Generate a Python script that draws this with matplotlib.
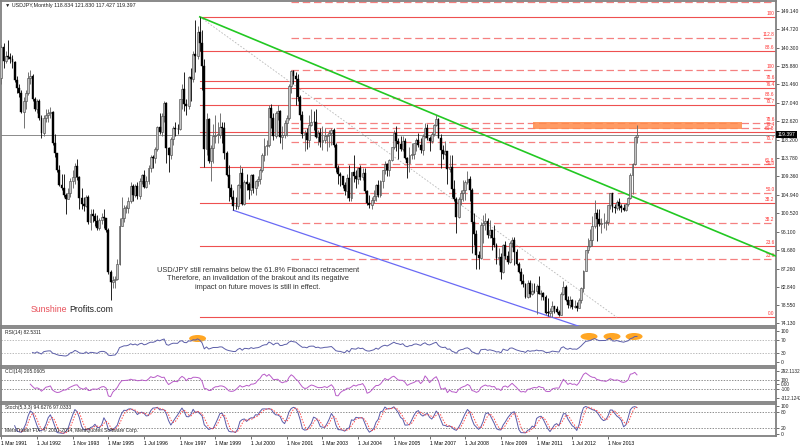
import numpy as np
import matplotlib.pyplot as plt
from matplotlib.patches import Ellipse, Rectangle

plt.rcParams['font.family'] = ['Liberation Sans', 'DejaVu Sans']

# USDJPY monthly bars, first bar = Mar 1991, last = Dec 2014
first_open = 133.0
close = [
    140.5, 137.0, 138.3, 138.0, 137.5, 136.9, 132.6, 130.5, 129.5, 124.8,            # 1991
    127.5, 129.5, 133.0, 133.5, 128.0, 125.5, 127.4, 123.5, 119.8, 123.4, 124.2, 124.7,  # 1992
    124.8, 117.5, 114.9, 111.0, 107.4, 106.6, 104.8, 104.0, 105.4, 108.3, 109.2, 111.9,  # 1993
    109.3, 104.3, 102.7, 102.3, 104.5, 98.5, 100.4, 99.9, 98.6, 96.9, 99.0, 99.7,        # 1994
    99.5, 96.6, 86.5, 84.0, 84.6, 84.8, 88.4, 97.5, 99.5, 101.8, 101.9, 103.4,           # 1995
    107.0, 104.9, 107.0, 104.6, 108.3, 109.7, 106.8, 108.2, 111.5, 114.0, 113.7, 116.0,  # 1996
    121.3, 120.0, 123.8, 127.0, 116.3, 114.5, 118.4, 121.0, 120.8, 120.7, 127.9, 130.4,  # 1997
    126.8, 126.3, 133.2, 132.7, 138.8, 138.3, 144.0, 141.5, 135.8, 116.0, 123.2, 113.1,  # 1998
    116.2, 119.1, 119.3, 119.4, 121.3, 120.9, 114.9, 109.8, 106.5, 104.4, 102.3, 102.2,  # 1999
    107.3, 110.3, 102.8, 108.1, 107.6, 106.1, 109.6, 106.7, 108.2, 108.8, 110.8, 114.5,  # 2000
    116.6, 117.0, 125.8, 123.4, 119.1, 124.6, 125.0, 118.9, 119.4, 122.3, 123.3, 131.0,  # 2001
    134.7, 133.4, 132.7, 128.5, 124.1, 119.6, 119.9, 118.2, 121.8, 122.5, 122.4, 118.8,  # 2002
    119.9, 117.6, 118.1, 119.1, 119.3, 119.9, 120.5, 116.8, 111.4, 109.9, 109.5, 107.3,  # 2003
    105.9, 109.1, 104.2, 110.5, 109.4, 108.8, 111.4, 109.3, 110.1, 105.8, 103.1, 102.6,  # 2004
    103.6, 104.6, 107.2, 104.8, 108.3, 110.9, 112.4, 111.0, 113.4, 116.4, 119.8, 117.9,  # 2005
    117.2, 116.0, 117.8, 113.9, 112.5, 114.5, 114.7, 117.3, 118.0, 116.9, 115.8, 119.0,  # 2006
    121.0, 118.5, 117.8, 119.5, 121.7, 123.2, 118.6, 115.8, 114.8, 115.4, 111.2, 111.7,  # 2007
    106.4, 103.9, 99.7, 103.9, 105.5, 106.2, 108.1, 108.8, 106.0, 98.4, 95.5, 90.6,      # 2008
    89.9, 97.6, 98.2, 98.6, 95.3, 96.4, 94.7, 93.0, 89.7, 90.1, 86.4, 93.0,              # 2009
    90.3, 88.9, 93.4, 94.0, 91.2, 88.4, 86.5, 84.2, 83.5, 80.4, 83.7, 81.1,              # 2010
    81.9, 81.8, 83.1, 81.2, 81.5, 80.5, 76.7, 76.6, 77.0, 78.2, 77.6, 76.9,              # 2011
    76.2, 81.2, 82.9, 79.8, 78.4, 79.8, 78.1, 78.3, 77.9, 79.8, 82.5, 86.7,              # 2012
    91.7, 92.6, 94.2, 97.4, 100.5, 99.1, 97.9, 98.1, 98.3, 98.4, 102.4, 105.3,           # 2013
    102.0, 101.8, 103.2, 102.3, 101.8, 101.3, 102.8, 104.1, 109.6, 112.3, 118.834, 119.397,  # 2014
]
high = [
    141.0, 141.5, 139.5, 142.0, 139.0, 138.5, 137.0, 133.5, 131.5, 130.0,
    128.5, 130.2, 134.5, 135.0, 134.0, 128.5, 128.0, 128.0, 124.0, 124.0, 125.5, 125.5,
    126.0, 125.0, 119.5, 115.0, 112.0, 110.0, 110.0, 105.5, 106.5, 109.0, 111.0, 112.5,
    113.5, 109.5, 106.5, 104.5, 105.0, 105.0, 101.5, 101.5, 100.5, 100.0, 99.5, 100.5,
    101.5, 99.5, 97.0, 87.0, 85.5, 85.5, 89.5, 99.5, 104.5, 102.5, 102.5, 104.5,
    108.0, 107.5, 107.5, 108.0, 109.0, 110.0, 111.0, 109.5, 112.0, 114.5, 114.5, 116.5,
    121.5, 124.5, 124.5, 127.5, 127.2, 116.5, 118.8, 121.5, 122.5, 122.0, 128.0, 131.5,
    134.5, 128.0, 133.5, 135.5, 139.5, 146.8, 145.5, 147.66, 144.5, 137.5, 124.5, 123.5,
    117.0, 122.0, 124.0, 122.5, 124.5, 122.5, 122.5, 115.5, 112.0, 107.5, 106.0, 104.5,
    107.5, 112.0, 111.5, 108.5, 110.0, 108.0, 110.0, 110.0, 108.5, 109.5, 111.5, 115.0,
    118.5, 118.0, 126.5, 126.8, 124.5, 125.0, 126.5, 125.3, 121.5, 123.0, 124.0, 131.5,
    135.0, 135.0, 134.5, 134.0, 129.0, 125.0, 120.5, 121.0, 124.0, 125.5, 125.0, 125.5,
    120.5, 121.0, 121.5, 121.0, 119.5, 120.5, 121.0, 121.0, 117.5, 112.0, 110.5, 109.5,
    108.0, 110.0, 112.0, 110.5, 114.5, 111.0, 111.5, 112.0, 111.5, 111.5, 106.0, 105.0,
    104.5, 106.0, 107.5, 108.5, 108.5, 111.0, 113.0, 112.5, 113.5, 116.5, 120.5, 121.4,
    118.5, 119.0, 119.0, 118.5, 114.0, 116.5, 117.5, 117.5, 118.5, 119.9, 118.5, 119.5,
    122.2, 122.0, 119.0, 120.0, 122.0, 124.1, 123.5, 119.5, 117.0, 117.8, 115.5, 114.5,
    114.5, 108.5, 104.5, 104.5, 106.0, 108.5, 108.5, 110.6, 109.5, 106.5, 100.5, 96.5,
    91.5, 98.5, 100.0, 100.7, 99.5, 98.9, 96.5, 97.8, 93.3, 92.3, 91.0, 93.2,
    93.8, 91.5, 93.8, 94.9, 94.8, 92.0, 88.8, 87.5, 85.9, 83.9, 84.4, 84.5,
    83.7, 83.9, 83.5, 85.5, 82.2, 81.7, 81.0, 80.2, 77.8, 79.5, 78.3, 78.2,
    77.3, 81.7, 84.2, 83.3, 80.6, 80.6, 80.0, 79.6, 79.2, 80.2, 82.8, 86.8,
    91.8, 94.5, 96.7, 99.9, 103.7, 101.5, 101.5, 99.5, 100.6, 99.0, 102.6, 105.4,
    105.4, 102.8, 103.8, 104.1, 102.8, 102.8, 103.1, 104.5, 110.1, 112.5, 118.98, 121.830,
]
low = [
    131.5, 135.5, 136.5, 137.5, 136.5, 135.5, 132.0, 129.5, 128.5, 124.5,
    121.0, 125.5, 129.0, 131.5, 127.5, 125.0, 124.5, 123.0, 118.5, 119.0, 122.5, 122.5,
    123.5, 117.0, 114.0, 110.5, 107.0, 106.0, 104.5, 100.4, 104.0, 104.5, 106.5, 107.5,
    108.5, 101.5, 101.5, 101.0, 102.0, 98.0, 96.5, 98.5, 97.5, 96.5, 96.5, 98.0,
    97.0, 96.0, 86.0, 79.75, 82.5, 82.5, 84.5, 88.0, 97.5, 98.5, 100.5, 100.5,
    103.0, 103.5, 104.5, 104.0, 104.0, 107.5, 106.5, 106.5, 107.5, 110.5, 111.5, 112.5,
    115.5, 119.5, 119.0, 122.5, 112.5, 110.5, 113.5, 117.0, 119.0, 119.5, 120.5, 125.5,
    125.0, 124.0, 125.5, 127.5, 132.0, 134.5, 137.5, 139.5, 130.0, 111.6, 114.5, 112.5,
    108.3, 112.5, 117.5, 117.5, 118.5, 117.5, 113.5, 109.5, 103.5, 104.0, 101.25, 101.5,
    101.5, 106.5, 102.5, 102.5, 106.0, 104.0, 105.0, 105.5, 105.0, 107.0, 107.5, 110.5,
    113.0, 114.5, 116.5, 121.0, 118.0, 118.5, 123.0, 117.5, 115.9, 118.5, 119.0, 123.0,
    129.5, 131.5, 126.5, 127.5, 123.0, 118.5, 115.5, 116.0, 116.5, 121.5, 120.5, 118.5,
    117.0, 116.5, 115.8, 117.5, 115.5, 116.5, 117.0, 116.5, 110.5, 107.5, 107.0, 106.5,
    105.0, 104.3, 103.5, 103.5, 108.0, 106.5, 107.5, 108.5, 108.5, 105.5, 102.5, 101.8,
    101.5, 103.0, 103.5, 104.5, 104.5, 106.5, 110.0, 109.5, 109.5, 113.0, 116.0, 115.5,
    113.5, 115.5, 115.5, 113.5, 108.9, 110.5, 113.5, 113.5, 115.5, 116.5, 115.0, 114.5,
    118.5, 118.0, 115.5, 117.5, 119.0, 121.5, 118.5, 111.5, 113.5, 114.5, 107.5, 110.5,
    104.5, 103.5, 95.8, 99.5, 102.5, 103.5, 103.8, 107.5, 103.5, 90.9, 93.0, 87.1,
    87.1, 89.5, 93.5, 96.5, 94.5, 94.5, 91.8, 92.5, 88.3, 88.0, 84.8, 86.3,
    89.5, 88.3, 88.5, 92.5, 88.2, 88.0, 86.2, 83.6, 82.9, 80.2, 80.2, 80.5,
    81.0, 81.4, 76.3, 81.1, 79.6, 79.7, 76.3, 75.9, 75.9, 75.56, 76.6, 76.5,
    75.9, 76.1, 80.9, 79.5, 77.7, 77.7, 77.6, 77.9, 77.1, 77.7, 79.0, 81.7,
    86.6, 90.9, 92.5, 92.6, 97.1, 93.8, 97.5, 95.8, 97.0, 96.6, 97.6, 101.6,
    100.8, 100.7, 101.2, 101.4, 100.8, 101.1, 101.1, 102.3, 104.0, 105.2, 112.0, 117.427,
]

price_ticks = [149.140, 144.720, 140.300, 135.880, 131.460, 127.040, 122.620, 118.200,
               113.780, 109.360, 104.940, 100.520, 96.100, 91.680, 87.260, 82.840,
               78.550, 74.130]
last_price = 119.397

date_labels = ['1 Mar 1991', '1 Jul 1992', '1 Nov 1993', '1 Mar 1995', '1 Jul 1996',
               '1 Nov 1997', '1 Mar 1999', '1 Jul 2000', '1 Nov 2001', '1 Mar 2003',
               '1 Jul 2004', '1 Nov 2005', '1 Mar 2007', '1 Jul 2008', '1 Nov 2009',
               '1 Mar 2011', '1 Jul 2012', '1 Nov 2013']
date_idx = list(range(0, 16 * len(date_labels), 16))

# fibonacci tools (bar index, price of anchors)
fib_low = 75.56
fibA_start, fibA_high = 89, 147.66      # solid set from Aug 1998 high
fibA_end = 276
fibA_levels = [0.0, 23.6, 38.2, 50.0, 61.8, 70.7, 76.4, 78.6, 88.6, 100.0]
fibB_start, fibB_high = 130, 135.0      # dashed set from Jan 2002 high
fibB_levels = [23.6, 38.2, 50.0, 61.8, 70.7, 76.4, 78.6, 88.6, 100.0, 112.8, 127.2]

# trend lines: (index, price) anchors
green_pts = [(89, 147.66), (195, 124.1)]
blue_pts = [(104, 101.25), (247, 75.56)]
zone = (238.5, 332.0, 120.75, 122.4)    # x0, x1, y0, y1

rsi_label = 'RSI(14) 82.5311'
cci_label = 'CCI(14) 205.0605'
sto_label = 'Stoch(5,3,3) 94.6276 97.0333'
cci_ticks = [292.1132, 100, 0, -100, -312.1242]
cci_tick_labels = ['292.1132', '100', '0.00', '-100', '-312.1242']

c = np.array(close)
h = np.array(high)
l = np.array(low)
o = np.concatenate([[first_open], c[:-1]])
o[-1] = 118.834
n = len(c)
x = np.arange(n)

# ---- indicators
def rsi(c, p=14):
    d = np.diff(c)
    up = np.where(d > 0, d, 0.0)
    dn = np.where(d < 0, -d, 0.0)
    out = np.full(len(c), np.nan)
    au, ad = up[:p].mean(), dn[:p].mean()
    out[p] = 100 - 100 / (1 + au / ad)
    for i in range(p + 1, len(c)):
        au = (au * (p - 1) + up[i - 1]) / p
        ad = (ad * (p - 1) + dn[i - 1]) / p
        out[i] = 100 - 100 / (1 + au / ad)
    return out

def cci(h, l, c, p=14):
    tp = (h + l + c) / 3
    out = np.full(len(c), np.nan)
    for i in range(p - 1, len(c)):
        w = tp[i - p + 1:i + 1]
        m = w.mean()
        md = np.abs(w - m).mean()
        out[i] = (tp[i] - m) / (0.015 * md)
    return out

def stoch(h, l, c, k=5, s=3, d=3):
    ll = np.array([l[max(0, i - k + 1):i + 1].min() for i in range(len(c))])
    hh = np.array([h[max(0, i - k + 1):i + 1].max() for i in range(len(c))])
    num = c - ll
    den = hh - ll
    kk = np.full(len(c), np.nan)
    for i in range(k + s - 2, len(c)):
        kk[i] = 100 * num[i - s + 1:i + 1].sum() / den[i - s + 1:i + 1].sum()
    dd = np.full(len(c), np.nan)
    for i in range(k + s + d - 3, len(c)):
        dd[i] = kk[i - d + 1:i + 1].mean()
    return kk, dd

rsi_v = rsi(c)
cci_v = cci(h, l, c)
k_v, d_v = stoch(h, l, c)

# ---- layout in pixels
W, H = 800, 447
fig = plt.figure(figsize=(8, 4.47), dpi=100)
fig.patch.set_facecolor('white')

def ax_px(x0, y0, x1, y1):
    return fig.add_axes([x0 / W, 1 - y1 / H, (x1 - x0) / W, (y1 - y0) / H])

ax = ax_px(1, 1, 776, 326)
ax_rsi = ax_px(1, 328, 776, 366)
ax_cci = ax_px(1, 368, 776, 402)
ax_sto = ax_px(1, 404, 776, 436)

X0, DX = 1.3, 2.2305
xlim = ((1 - X0) / DX, (776 - X0) / DX)

for a in (ax, ax_rsi, ax_cci, ax_sto):
    a.set_xlim(*xlim)
    for s in a.spines.values():
        s.set_color('#808080')
        s.set_linewidth(1.3)
    a.yaxis.tick_right()
    a.tick_params(axis='y', length=2, width=0.6, color='#555555', labelsize=3.6,
                  pad=1.5, labelcolor='#222222')
    a.tick_params(axis='x', length=0, labelbottom=False)

# ---- main chart
ax.set_ylim(73.48, 151.47)
ax.set_yticks(price_ticks)
ax.set_yticklabels(['%.3f' % v for v in price_ticks])

# fibonacci levels
for lv in fibA_levels:
    p = fib_low + lv / 100 * (fibA_high - fib_low)
    ax.plot([fibA_start, xlim[1]], [p, p], color='#ee5050', lw=0.8, zorder=2)
    ax.text(xlim[1] - 0.6, p + 0.25, '100' if lv == 100 else '%.1f' % lv,
            color='#ff3030', fontsize=3.4, ha='right', va='bottom', clip_on=True)
for lv in fibB_levels:
    p = fib_low + lv / 100 * (fibB_high - fib_low)
    ax.plot([fibB_start, xlim[1]], [p, p], color='#f58080', lw=0.9,
            dashes=(6, 3), zorder=2)
    if p + 2 < 151.47:
        ax.text(xlim[1] - 0.6, p + 0.25, '100' if lv == 100 else '%.1f' % lv,
                color='#ff3030', fontsize=3.4, ha='right', va='bottom', clip_on=True)

ax.plot([fibA_start, fibA_end], [fibA_high, fib_low], color='#b8b8b8', lw=0.6,
        ls=(0, (2, 2)), zorder=2)

# trend lines extended to the right edge
(gx0, gy0), (gx1, gy1) = green_pts
gs = (gy1 - gy0) / (gx1 - gx0)
ax.plot([gx0, xlim[1]], [gy0, gy0 + gs * (xlim[1] - gx0)], color='#22c822', lw=1.2, zorder=4)
(bx0, by0), (bx1, by1) = blue_pts
bs = (by1 - by0) / (bx1 - bx0)
ax.plot([bx0, xlim[1]], [by0, by0 + bs * (xlim[1] - bx0)], color='#6a6af5', lw=0.9, zorder=4)

ax.add_patch(Rectangle((zone[0], zone[2]), zone[1] - zone[0], zone[3] - zone[2],
                       facecolor='#ff8a4a', edgecolor='none', alpha=0.85, zorder=3))

ax.axhline(last_price, color='#8a8a8a', lw=0.7, zorder=2)

# candles
up = c >= o
ax.vlines(x[up], l[up], h[up], color='#6a6a6a', lw=0.65, zorder=5)
ax.vlines(x[~up], l[~up], h[~up], color='#111111', lw=0.65, zorder=5)
ax.bar(x[up], np.maximum(c[up] - o[up], 0.15), bottom=o[up], width=0.85,
       color='#c4c4c4', edgecolor='#404040', linewidth=0.4, zorder=6)
ax.bar(x[~up], np.maximum(o[~up] - c[~up], 0.15), bottom=c[~up], width=0.85,
       color='#000000', edgecolor='#000000', linewidth=0.3, zorder=6)

def fpx(px, py):
    return px / W, 1 - py / H

fig.text(*fpx(5, 6), '\u25bc USDJPY,Monthly 118.834 121.830 117.427 119.397',
         fontsize=3.9, color='#222222', va='center')
fig.text(*fpx(777.5, 134.5), '%.3f' % last_price, fontsize=3.6, color='white',
         va='center', ha='left',
         bbox=dict(boxstyle='square,pad=0.25', facecolor='black', edgecolor='none'))

fig.text(*fpx(258, 279), 'USD/JPY still remains below the 61.8% Fibonacci retracement\n'
         'Therefore, an invalidation of the brakout and its negative\n'
         'impact on future moves is still in effect.',
         fontsize=5.3, color='#333333', ha='center', va='center', linespacing=1.35)
t1 = fig.text(*fpx(31, 309), 'Sunshine', fontsize=6.3, color='#e8505a', va='center')
fig.canvas.draw()
bb = t1.get_window_extent()
fig.text(bb.x1 / W + 2 / W, 1 - 309 / H, 'Profits.com', fontsize=6.3, color='#222222',
         va='center')

# ---- RSI
ax_rsi.set_ylim(-12.9, 109.7)
ax_rsi.set_yticks([100, 70, 30, 0])
ax_rsi.set_yticklabels(['100', '70', '30', '0'])
for lv in (70, 30):
    ax_rsi.axhline(lv, color='#a0a0a0', lw=0.5, ls=(0, (2, 2)))
ax_rsi.plot(x, rsi_v, color='#5c5ea8', lw=0.7)
for ex, ey in [(88.0, 75.8), (263.5, 82.3), (273.8, 82.3), (283.7, 82.3)]:
    ax_rsi.add_patch(Ellipse((ex, ey), 7.6, 22.6, facecolor='#ffa624',
                             edgecolor='none', zorder=1))
ax_rsi.text(0.005, 0.96, rsi_label, transform=ax_rsi.transAxes, fontsize=3.6,
            color='#222222', va='top')

# ---- CCI
ax_cci.set_ylim(-401.6, 359.3)
ax_cci.set_yticks(cci_ticks)
ax_cci.set_yticklabels(cci_tick_labels)
ax_cci.tick_params(axis='y', labelsize=3.4)
for lv in (100, -100):
    ax_cci.axhline(lv, color='#606060', lw=0.5, ls=(0, (2, 2)))
ax_cci.plot(x, cci_v, color='#b85cc8', lw=0.7)
ax_cci.text(0.005, 0.96, cci_label, transform=ax_cci.transAxes, fontsize=3.6,
            color='#222222', va='top')

# ---- Stochastic
ax_sto.set_ylim(-7.1, 107.1)
ax_sto.set_yticks([100, 80, 20, 0])
ax_sto.set_yticklabels(['100', '80', '20', '0'])
for lv in (80, 20):
    ax_sto.axhline(lv, color='#606060', lw=0.5, ls=(0, (2, 2)))
ax_sto.plot(x, k_v, color='#5a5aa8', lw=0.7)
ax_sto.plot(x, d_v, color='#ff4a4a', lw=0.7, ls=(0, (1.5, 1.5)))
ax_sto.text(0.005, 0.96, sto_label, transform=ax_sto.transAxes, fontsize=3.6,
            color='#222222', va='top')
ax_sto.text(0.005, 0.08, 'MetaTrader FIX, \u00a9 2001-2014, MetaQuotes Software Corp.',
            transform=ax_sto.transAxes, fontsize=3.6, color='#222222', va='bottom')

ax_sto.set_xticks(date_idx)
ax_sto.set_xticklabels(date_labels)
ax_sto.tick_params(axis='x', length=2, width=0.6, color='#555555', labelbottom=True,
                   labelsize=3.7, pad=1.5, direction='out')
for t in ax_sto.get_xticklabels():
    t.set_ha('left')

fig.savefig('out.png', dpi=100, facecolor='white')
